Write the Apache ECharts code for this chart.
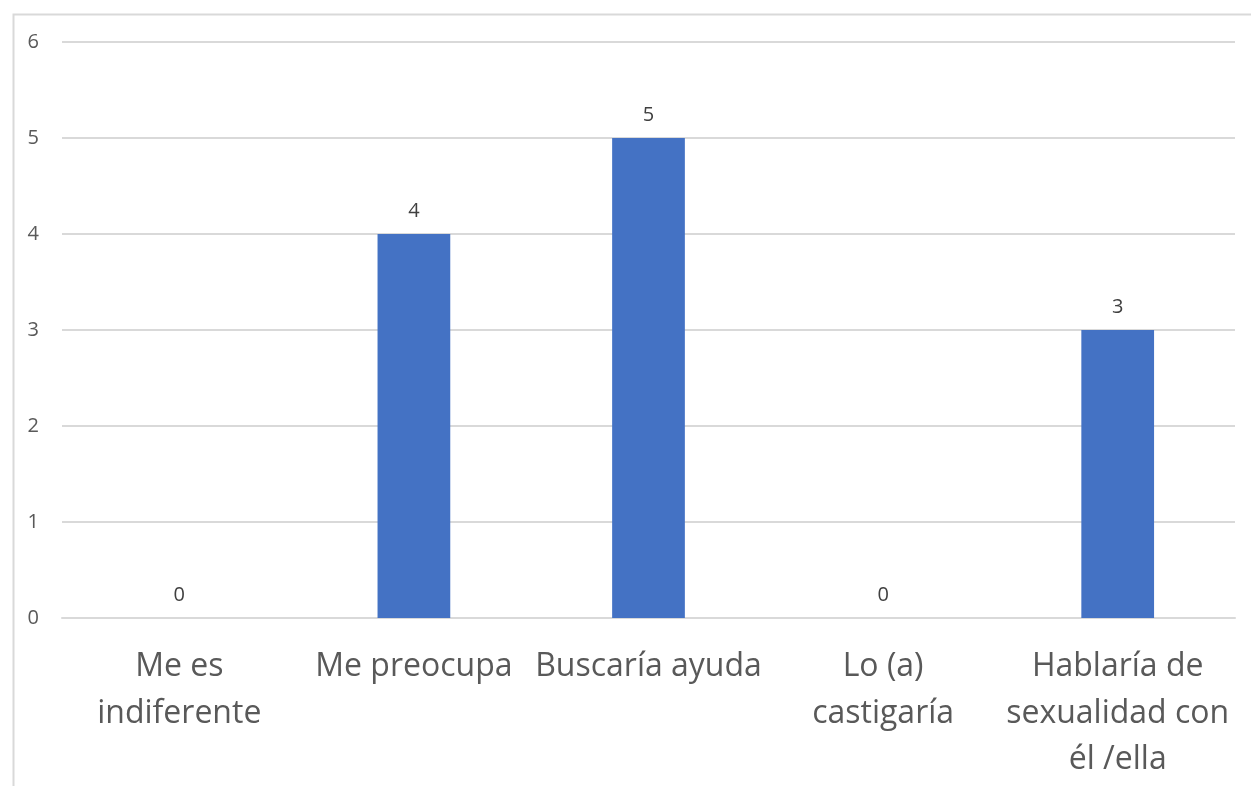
<!DOCTYPE html>
<html>
<head>
<meta charset="utf-8">
<script src="https://cdn.jsdelivr.net/npm/echarts@6/dist/echarts.min.js"></script>
<style>
  html, body { margin: 0; padding: 0; background: #ffffff; }
  #chart { width: 1251px; height: 786px; }
</style>
</head>
<body>
<div id="chart"></div>
<script>
// Responses and their counts
const categories = [
  'Me es\nindiferente',
  'Me preocupa',
  'Buscaría ayuda',
  'Lo (a)\ncastigaría',
  'Hablaría de\nsexualidad con\nél /ella'
];
const counts = [0, 4, 5, 0, 3];
const yTicks = [0, 1, 2, 3, 4, 5, 6];

const chart = echarts.init(document.getElementById('chart'), null, { renderer: 'canvas' });
const font = '"Open Sans", sans-serif';

chart.setOption({
  animation: false,
  backgroundColor: '#ffffff',
  graphic: [{
    type: 'rect',
    left: 11, top: 12,
    shape: { width: 1300, height: 900 },
    style: { fill: 'none', stroke: '#d9d9d9', lineWidth: 2 },
    silent: true
  }],
  grid: { left: 62, right: 16, top: 42, bottom: 168, containLabel: false },
  xAxis: {
    type: 'category',
    data: categories,
    axisLine: { show: true, lineStyle: { color: '#d9d9d9', width: 2 } },
    axisTick: { show: false },
    axisLabel: {
      interval: 0,
      color: '#595959',
      fontFamily: font,
      fontSize: 32,
      lineHeight: 46.5,
      margin: 26
    }
  },
  yAxis: {
    type: 'value',
    min: yTicks[0],
    max: yTicks[yTicks.length - 1],
    interval: 1,
    axisLine: { show: false },
    axisTick: { show: false },
    splitLine: { lineStyle: { color: '#d9d9d9', width: 2 } },
    axisLabel: { color: '#595959', fontFamily: font, fontSize: 20, margin: 23 }
  },
  series: [{
    type: 'bar',
    data: counts,
    barWidth: '31%',
    itemStyle: { color: '#4472c4' },
    label: {
      show: true,
      position: 'top',
      distance: 13,
      color: '#404040',
      fontFamily: font,
      fontSize: 20
    }
  }]
});
</script>
</body>
</html>
